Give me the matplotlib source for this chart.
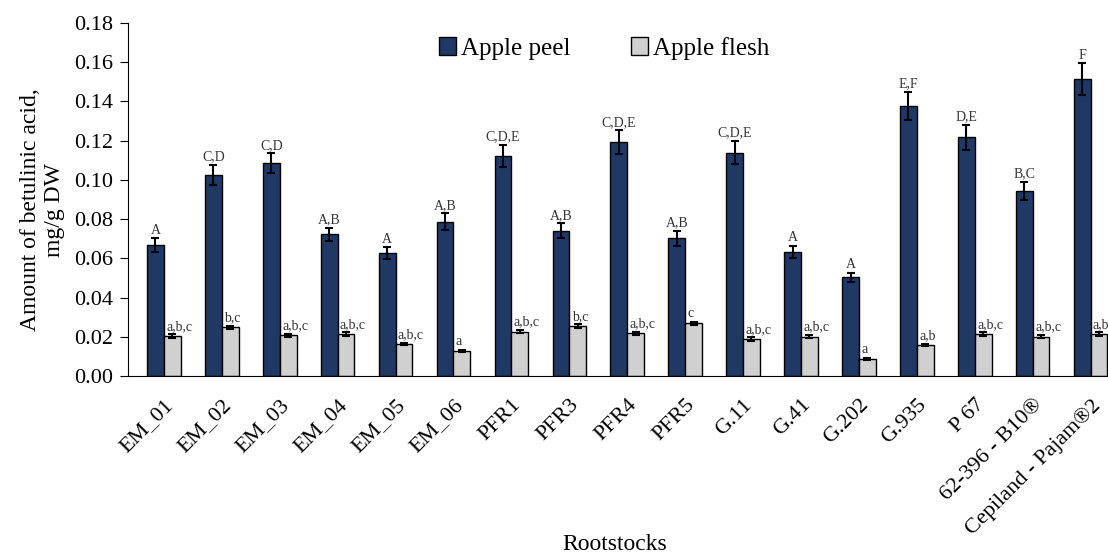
import numpy as np
import matplotlib
matplotlib.use("Agg")
import matplotlib.pyplot as plt

plt.rcParams["font.family"] = ["Liberation Serif", "DejaVu Serif"]

rootstocks = ["EM_01", "EM_02", "EM_03", "EM_04", "EM_05", "EM_06", "PFR1", "PFR3",
              "PFR4", "PFR5", "G.11", "G.41", "G.202", "G.935", "P 67",
              "62-396 - B10®", "Cepiland - Pajam®2"]

peel = [0.0668, 0.1025, 0.1085, 0.0722, 0.0626, 0.0787, 0.1122, 0.0741,
        0.1192, 0.0702, 0.1139, 0.0634, 0.0503, 0.1378, 0.1217, 0.0943, 0.1513]
peel_err = [0.0034, 0.005, 0.005, 0.0034, 0.003, 0.0042, 0.0056, 0.0037,
            0.006, 0.0037, 0.006, 0.003, 0.0024, 0.0071, 0.0063, 0.0048, 0.0082]
peel_letters = ["A", "C,D", "C,D", "A,B", "A", "A,B", "C,D,E", "A,B",
                "C,D,E", "A,B", "C,D,E", "A", "A", "E,F", "D,E", "B,C", "F"]

flesh = [0.0204, 0.0248, 0.0207, 0.0214, 0.0163, 0.0127, 0.0226, 0.0255,
         0.0218, 0.0269, 0.0189, 0.0201, 0.0087, 0.0158, 0.0214, 0.0201, 0.0214]
flesh_err = [0.0008, 0.0008, 0.0008, 0.0008, 0.0006, 0.0006, 0.0008, 0.0008,
             0.0008, 0.0008, 0.0008, 0.0008, 0.0006, 0.0006, 0.0008, 0.0008, 0.0008]
flesh_letters = ["a,b,c", "b,c", "a,b,c", "a,b,c", "a,b,c", "a", "a,b,c", "b,c",
                 "a,b,c", "c", "a,b,c", "a,b,c", "a", "a,b", "a,b,c", "a,b,c", "a,b"]

x = np.arange(len(rootstocks))
w = 0.29

fig = plt.figure(figsize=(11.08, 5.56), dpi=100)
ax = fig.add_axes([0.1155, 0.3237, 0.8845, 0.635])

err_kw = dict(ecolor="black", capsize=3, elinewidth=1.5, capthick=1.5)
ax.bar(x - w / 2, peel, w, yerr=peel_err, color="#1f3864", edgecolor="black",
       linewidth=1, label="Apple peel", error_kw=err_kw)
ax.bar(x + w / 2, flesh, w, yerr=flesh_err, color="#d0d0d0", edgecolor="black",
       linewidth=1, label="Apple flesh", error_kw=err_kw)

for i in range(len(x)):
    ax.text(x[i] - w / 2, peel[i] + peel_err[i] + 0.0008, peel_letters[i],
            ha="center", va="bottom", fontsize=10, color="#333333")
    ax.text(x[i] + 0.04, flesh[i] + flesh_err[i] + 0.0008, flesh_letters[i],
            ha="left", va="bottom", fontsize=10, color="#333333")

ax.set_xlim(-0.62, 16.3)
ax.set_ylim(0, 0.18)
ax.set_yticks(np.arange(0, 0.181, 0.02))
ax.yaxis.set_major_formatter(plt.FormatStrFormatter("%.2f"))
ax.set_xticks(x)
ax.set_xticklabels(rootstocks, rotation=45, ha="right", rotation_mode="anchor")
ax.tick_params(axis="y", labelsize=16, direction="out", length=6, pad=5)
ax.tick_params(axis="x", labelsize=16, length=0, pad=14)
ax.spines["top"].set_visible(False)
ax.spines["right"].set_visible(False)

ax.set_ylabel("Amount of betulinic acid,\nmg/g DW", fontsize=17, linespacing=1.2)
ax.yaxis.set_label_coords(-0.064, 0.47)
fig.text(0.555, 0.001, "Rootstocks", ha="center", va="bottom", fontsize=17)

ax.legend(loc="upper center", ncol=2, frameon=False, fontsize=18,
          bbox_to_anchor=(0.486, 1.025), handlelength=0.7, handleheight=0.7,
          handletextpad=0.2, columnspacing=2.4)

fig.savefig("out.png", dpi=100)
